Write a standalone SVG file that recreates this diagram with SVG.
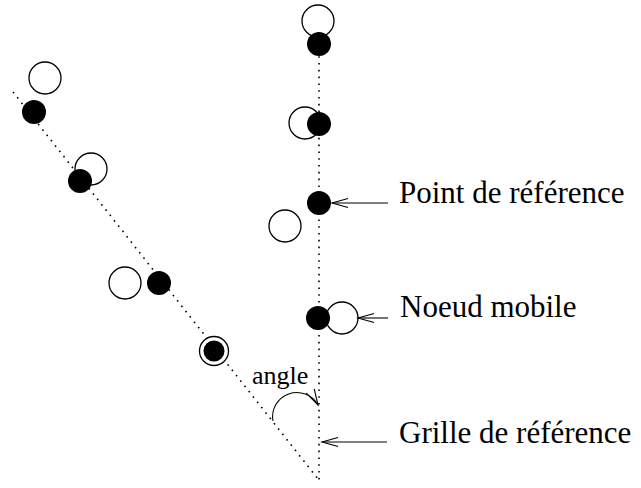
<svg xmlns="http://www.w3.org/2000/svg" width="641" height="488" viewBox="0 0 641 488">
<style>
.grid{fill:none;stroke:#000;stroke-width:1.6;stroke-dasharray:1.6 5.2}
.open{fill:#fff;stroke:#000;stroke-width:1.3}
.fill{fill:#000;stroke:none}
.lead{fill:none;stroke:#000;stroke-width:1.1}
.lbl{font-family:"Liberation Serif","Times New Roman",serif;font-size:31px;fill:#000}
.ang{font-family:"Liberation Serif","Times New Roman",serif;font-size:26px;fill:#000}
</style>
<defs>
<marker id="arr" viewBox="0 0 20 12" refX="18" refY="6" markerWidth="20" markerHeight="12" markerUnits="userSpaceOnUse" orient="auto">
<path d="M2,1.5 L18,6 L2,10.5" fill="none" stroke="#000" stroke-width="1.1"/>
</marker>
</defs>
<g id="grids">
<line class="grid" x1="319" y1="29" x2="319" y2="481"/>
<line class="grid" x1="13" y1="92" x2="318" y2="479"/>
</g>
<g id="node-r1"><circle class="open" cx="318" cy="21" r="16"/><circle class="fill" cx="319" cy="44" r="12"/></g>
<g id="node-r2"><circle class="open" cx="305" cy="123" r="16"/><circle class="fill" cx="319" cy="124" r="12"/></g>
<g id="node-r3"><circle class="open" cx="285" cy="226" r="16"/><circle class="fill" cx="319" cy="203" r="12"/></g>
<g id="node-r4"><circle class="open" cx="342" cy="318" r="16"/><circle class="fill" cx="318" cy="318" r="12"/></g>
<g id="node-l1"><circle class="open" cx="45" cy="78" r="16"/><circle class="fill" cx="34" cy="112" r="12"/></g>
<g id="node-l2"><circle class="open" cx="91" cy="169" r="16"/><circle class="fill" cx="80" cy="181" r="12"/></g>
<g id="node-l3"><circle class="open" cx="125" cy="283" r="16"/><circle class="fill" cx="159" cy="283" r="12"/></g>
<g id="node-l4"><circle class="open" cx="214" cy="351" r="14.5"/><circle class="fill" cx="214" cy="351" r="10.5"/></g>
<g id="connectors">
<path class="lead" d="M388,203 L332,203" marker-end="url(#arr)"/>
<path class="lead" d="M388,318 L358,318" marker-end="url(#arr)"/>
<path class="lead" d="M387,442 L322,442" marker-end="url(#arr)"/>
<path class="lead" d="M273,421 A24.2,24.2 0 0 1 318,405" marker-end="url(#arr)"/>
</g>
<g id="labels">
<text class="lbl" x="399" y="203">Point de référence</text>
<text class="lbl" x="400" y="317">Noeud mobile</text>
<text class="lbl" x="399" y="443">Grille de référence</text>
<text class="ang" x="252" y="384">angle</text>
</g>
</svg>
